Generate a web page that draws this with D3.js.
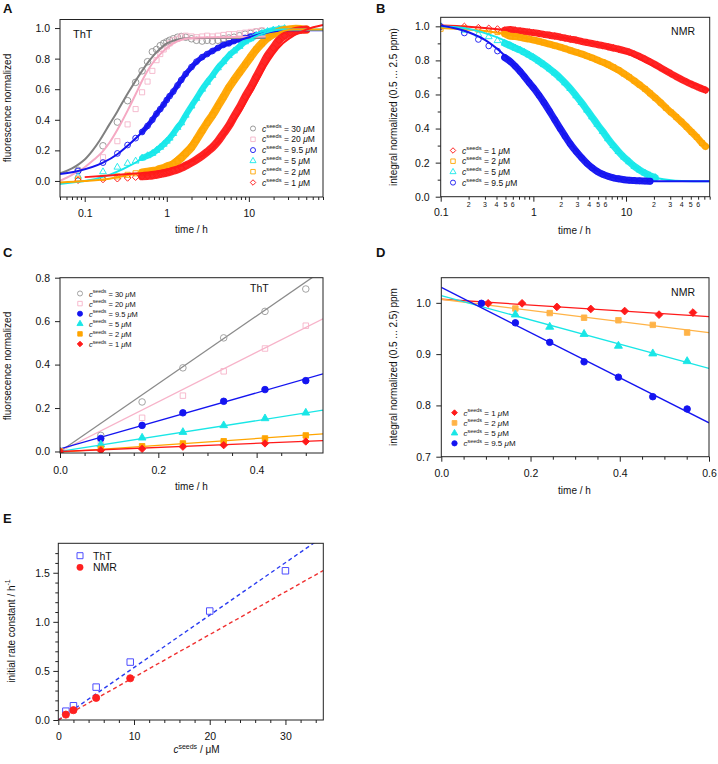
<!DOCTYPE html>
<html><head><meta charset="utf-8">
<script src="https://cdn.jsdelivr.net/npm/d3@7"></script>
<style>
body{margin:0;background:#fff}
svg{display:block;font-family:"Liberation Sans",Arial,Helvetica,sans-serif}
</style>
</head><body>
<svg id="fig" width="718" height="764"></svg>
<script>
// ---------------- DATA ----------------
// Panel A: ThT kinetics (time in h, normalized fluorescence)
const thtTime = [0.083,0.167,0.25,0.333,0.417,0.5,0.583,0.667,0.75,0.833,0.917,1.0,1.083,1.2,1.35,1.5,1.7,2.0,2.3,2.7,3.1,3.6,4.2,4.9,5.7,6.6,7.7,9,10.5,12.3,14.4,16.9,19.8,23.2,27.2,31.8,37.3,43.7,50];
const thtVal30 = [0.07,0.23,0.385,0.525,0.645,0.72,0.78,0.845,0.86,0.885,0.9,0.91,0.92,0.93,0.94,0.945,0.94,0.93,0.92,0.915,0.92,0.915,0.92,0.93,0.935,0.94,0.95,0.96,0.965,0.975,0.98];
const thtVal20 = [0.02,0.155,0.26,0.37,0.47,0.58,0.65,0.72,0.79,0.83,0.86,0.88,0.9,0.92,0.93,0.945,0.95,0.945,0.94,0.945,0.95,0.945,0.95,0.955,0.96,0.96,0.965,0.97,0.975,0.98,0.985];
const thtVal9_5 = [0.065,0.12,0.18,0.235,0.28,0.32,0.36,0.4,0.44,0.47,0.5,0.53,0.555,0.585,0.625,0.66,0.7,0.745,0.78,0.81,0.83,0.85,0.87,0.89,0.9,0.915,0.925,0.935,0.945,0.955,0.965,0.972,0.978];
const thtVal5 = [0.03,0.06,0.09,0.115,0.13,0.15,0.165,0.18,0.2,0.22,0.24,0.26,0.28,0.31,0.35,0.38,0.43,0.49,0.54,0.6,0.645,0.69,0.74,0.78,0.82,0.85,0.88,0.91,0.93,0.95,0.965,0.978,0.987,0.993,0.997];
const thtVal2 = [0.01,0.02,0.03,0.04,0.05,0.055,0.06,0.065,0.07,0.08,0.085,0.095,0.1,0.11,0.13,0.15,0.18,0.22,0.27,0.33,0.38,0.43,0.49,0.55,0.61,0.66,0.71,0.76,0.81,0.86,0.9,0.935,0.96,0.978,0.988,0.993,0.995,0.993,0.99];
const thtVal1 = [0.005,0.01,0.015,0.02,0.025,0.03,0.033,0.036,0.04,0.045,0.05,0.055,0.06,0.067,0.075,0.085,0.1,0.12,0.14,0.165,0.19,0.22,0.26,0.31,0.36,0.42,0.48,0.55,0.61,0.68,0.75,0.82,0.87,0.92,0.95,0.97,0.982,0.988,0.99];
// Panel A fitted curves [t, value]
const thtFit30 = [[0.05,0.05],[0.06,0.065],[0.07,0.082],[0.085,0.11],[0.1,0.14],[0.125,0.2],[0.15,0.26],[0.2,0.37],[0.25,0.455],[0.3,0.53],[0.35,0.59],[0.4,0.64],[0.5,0.72],[0.6,0.78],[0.7,0.825],[0.85,0.87],[1.0,0.9],[1.25,0.92],[1.6,0.932],[2,0.935],[16,0.935]];
const thtFit20 = [[0.05,0.0],[0.07,0.04],[0.1,0.09],[0.13,0.14],[0.164,0.19],[0.2,0.25],[0.25,0.335],[0.333,0.46],[0.42,0.57],[0.5,0.655],[0.65,0.76],[0.8,0.82],[1.0,0.87],[1.3,0.91],[1.7,0.93],[2.5,0.938],[5,0.94],[16,0.945]];
const thtFit9_5 = [[0.05,0.045],[0.083,0.065],[0.167,0.12],[0.25,0.175],[0.333,0.23],[0.5,0.32],[0.75,0.44],[1.0,0.53],[1.4,0.63],[2,0.735],[3,0.82],[4,0.86],[6,0.9],[10,0.94],[15,0.965],[20,0.978],[30,0.985],[80,0.985]];
const thtFit5 = [[0.05,-0.02],[0.083,-0.005],[0.1,0.0],[0.2,0.04],[0.3,0.08],[0.5,0.145],[0.7,0.2],[1,0.27],[1.5,0.39],[2,0.48],[2.5,0.56],[3,0.62],[4,0.71],[6,0.82],[10,0.92],[16,0.97],[25,0.99],[80,0.99]];
const thtFit2 = [[0.05,-0.01],[0.1,0.0],[0.2,0.015],[0.4,0.045],[0.7,0.075],[1,0.105],[1.5,0.18],[2,0.25],[2.5,0.32],[3,0.39],[4,0.49],[6,0.63],[8,0.73],[10,0.8],[13,0.87],[16,0.92],[20,0.955],[26,0.98],[35,0.99],[80,0.99]];
const thtFit1 = [[0.1,0.025],[0.2,0.035],[0.4,0.048],[0.7,0.06],[1,0.075],[1.5,0.1],[2,0.13],[3,0.18],[4,0.24],[6,0.36],[8,0.46],[10,0.55],[13,0.66],[16,0.75],[20,0.83],[26,0.9],[35,0.95],[50,0.99],[80,1.02]];

// Panel B: NMR kinetics
const nmrTime = [0.1,0.18,0.255,0.33,0.41,0.49,0.565,0.64,0.72,0.8,0.9,1.0,1.15,1.3,1.5,1.7,1.95,2.2,2.5,2.9,3.3,3.8,4.3,4.9,5.6,6.4,7.3,8.3,9.5,10.8,12.3,14,16,18.2,20.7,23.6,26.9,30.6,34.8,39.6,45,51,58,66,72];
const nmrVal1 = [0.999,0.999,0.992,0.988,0.984,0.977,0.981,0.976,0.973,0.97,0.966,0.963,0.958,0.953,0.948,0.943,0.937,0.931,0.925,0.919,0.912,0.905,0.899,0.893,0.887,0.88,0.873,0.866,0.858,0.849,0.837,0.823,0.808,0.792,0.775,0.757,0.739,0.722,0.705,0.689,0.674,0.66,0.647,0.634,0.626];
const nmrVal2 = [0.985,0.989,0.98,0.971,0.966,0.957,0.942,0.94,0.935,0.93,0.925,0.92,0.912,0.904,0.895,0.887,0.878,0.869,0.859,0.848,0.838,0.826,0.815,0.803,0.79,0.776,0.76,0.743,0.722,0.702,0.68,0.657,0.633,0.607,0.58,0.552,0.522,0.495,0.468,0.44,0.41,0.38,0.35,0.315,0.295];
const nmrVal5 = [1.0,0.977,0.953,0.939,0.916,0.901,0.886,0.872,0.86,0.847,0.832,0.817,0.795,0.775,0.75,0.726,0.697,0.668,0.635,0.592,0.553,0.508,0.468,0.425,0.383,0.34,0.3,0.265,0.232,0.205,0.178,0.157,0.138,0.123,0.112];
const nmrVal9_5 = [0.999,0.961,0.923,0.885,0.855,0.817,0.793,0.765,0.735,0.705,0.67,0.64,0.595,0.553,0.5,0.452,0.4,0.355,0.31,0.265,0.23,0.195,0.17,0.148,0.132,0.12,0.111,0.105,0.1,0.097,0.095,0.093,0.092,0.091];
const nmrFit1 = [[0.1,1.005],[0.2,0.998],[0.3,0.99],[0.5,0.978],[1,0.96],[2,0.935],[4,0.905],[7,0.87],[10,0.845],[15,0.8],[22,0.755],[35,0.705],[50,0.67],[80,0.625]];
const nmrFit2 = [[0.1,0.99],[0.3,0.972],[0.5,0.955],[1,0.92],[2,0.87],[4,0.81],[7,0.75],[10,0.705],[15,0.64],[22,0.57],[35,0.47],[50,0.39],[80,0.29]];
const nmrFit5 = [[0.1,1.0],[0.2,0.985],[0.3,0.96],[0.5,0.915],[0.7,0.875],[1,0.82],[1.5,0.75],[2,0.69],[3,0.58],[4,0.49],[6,0.37],[8,0.28],[10,0.22],[15,0.145],[22,0.108],[40,0.092],[80,0.09]];
const nmrFit9_5 = [[0.1,1.005],[0.2,0.965],[0.3,0.92],[0.5,0.825],[0.7,0.745],[1,0.645],[1.5,0.5],[2,0.39],[3,0.26],[4,0.185],[6,0.128],[10,0.1],[20,0.09],[80,0.09]];

// Panel C: ThT initial phase
const thtInitTime = [0,0.083,0.167,0.25,0.333,0.417,0.5];
const thtInit30 = [0,0.074,0.228,0.385,0.523,0.645,0.748];
const thtInit20 = [0,0.047,0.155,0.257,0.369,0.474,0.579];
const thtInit9_5 = [0,0.06,0.12,0.178,0.231,0.285,0.326];
const thtInit5 = [0,0.032,0.063,0.089,0.12,0.152,0.178];
const thtInit2 = [0,0.012,0.024,0.037,0.047,0.06,0.074];
const thtInit1 = [0,0.005,0.012,0.022,0.029,0.037,0.046];
const thtLineT = [0,0.535];
const thtLine30 = [0.0,0.835];
const thtLine20 = [0.0,0.611];
const thtLine9_5 = [0.012,0.357];
const thtLine5 = [0.0,0.19];
const thtLine2 = [-0.003,0.081];
const thtLine1 = [0.0,0.05];

// Panel D: NMR initial phase
const nmrInitT1 = [0.105,0.181,0.259,0.335,0.411,0.488,0.564];
const nmrInit1 = [0.999,0.999,0.992,0.988,0.984,0.977,0.981];
const nmrInitT2 = [0.166,0.243,0.32,0.397,0.474,0.551];
const nmrInit2 = [0.989,0.98,0.971,0.966,0.957,0.942];
const nmrInitT5 = [0.166,0.243,0.32,0.397,0.474,0.551];
const nmrInit5 = [0.977,0.953,0.939,0.916,0.901,0.886];
const nmrInitT9_5 = [0.09,0.166,0.243,0.32,0.397,0.474,0.551];
const nmrInit9_5 = [0.999,0.961,0.923,0.885,0.855,0.817,0.793];
const nmrLineT = [0,0.6];
const nmrLine1 = [1.007,0.973];
const nmrLine2 = [1.007,0.942];
const nmrLine5 = [1.014,0.872];
const nmrLine9_5 = [1.03,0.766];

// Panel E: initial rate constants
const seedsThT = [1,2,5,9.5,20,30];
const rateThT = [0.09,0.145,0.335,0.59,1.11,1.52];
const seedsNMR = [1,2,5,9.5];
const rateNMR = [0.055,0.1,0.225,0.425];
const rateLineC = [0,35];
const rateLineThT = [0,1.87];
const rateLineNMR = [0,1.523];

// Legends / tick labels
const concLabels = ["30","20","9.5","5","2","1"];
const ticksLogA = [0.1,1,10];
const ticksLin01 = [0,0.2,0.4,0.6,0.8,1.0];

// ---------------- DRAWING ----------------
const svg = d3.select("#fig");
const FONT = 10.5;
const COL = {g:"#8f8f8f", p:"#f4b4c9", b:"#1414f0", c:"#17e8ea", o:"#ffa500", r:"#ff1a1a"};
const SYM = {circle:d3.symbolCircle, square:d3.symbolSquare, triangle:d3.symbolTriangle, diamond:d3.symbolSquare};
const ROT = {diamond:45};
let clipN = 0;
const zip = (a,b) => a.slice(0,b.length).map((t,i)=>[t,b[i]]);

function panel(xs, ys) {
  const [x0,x1] = xs.range(), [y1,y0] = ys.range();
  const id = "clip"+(clipN++);
  svg.append("clipPath").attr("id",id).append("rect").attr("x",x0).attr("y",y0).attr("width",x1-x0).attr("height",y1-y0);
  const g = svg.append("g");
  const plot = g.append("g").attr("clip-path",`url(#${id})`);
  return {g, plot, xs, ys, x0, x1, y0, y1};
}
function axes(P, c) {
  const {g, xs, ys, x0, x1, y0, y1} = P;
  function styl(sel){ sel.select(".domain").remove(); sel.selectAll("line").attr("stroke","#222"); sel.selectAll("text").attr("font-size",c.fs||FONT).attr("fill","#111").attr("font-family",null); }
  g.append("g").attr("transform",`translate(0,${y1})`)
    .call(d3.axisBottom(xs).tickValues(c.xMaj).tickFormat(c.xFmt).tickSize(5).tickSizeOuter(0).tickPadding(c.xPad)).call(styl);
  if (c.xMin) g.append("g").attr("transform",`translate(0,${y1})`)
    .call(d3.axisBottom(xs).tickValues(c.xMin).tickFormat("").tickSize(3).tickSizeOuter(0)).call(styl);
  g.append("g").attr("transform",`translate(${x0},0)`)
    .call(d3.axisLeft(ys).tickValues(c.yMaj).tickFormat(c.yFmt).tickSize(5).tickSizeOuter(0).tickPadding(c.yPad)).call(styl);
  if (c.yMin) g.append("g").attr("transform",`translate(${x0},0)`)
    .call(d3.axisLeft(ys).tickValues(c.yMin).tickFormat("").tickSize(3).tickSizeOuter(0)).call(styl);
  g.append("rect").attr("x",x0).attr("y",y0).attr("width",x1-x0).attr("height",y1-y0)
    .attr("fill","none").attr("stroke","#222").attr("stroke-width",1);
}
function fitLine(P, data, color, w, dash) {
  const line = d3.line().curve(d3.curveMonotoneX).x(d=>P.xs(d[0])).y(d=>P.ys(d[1]));
  P.plot.append("path").attr("d",line(data)).attr("fill","none").attr("stroke",color)
    .attr("stroke-width",w).attr("stroke-dasharray",dash||null);
}
function symPath(sel, shape, size){
  sel.attr("d",d3.symbol().type(SYM[shape]).size(shape==="diamond"?size*0.75:size));
}
function series(P, data, o) {
  const {xs, ys} = P;
  if (o.band) {
    // dense measurements: consecutive points closer than o.gap px merge into a band
    const segs=[]; let cur=[];
    data.forEach((d,i)=>{
      if (i>0 && Math.abs(xs(d[0])-xs(data[i-1][0]))>o.gap){ if(cur.length>1) segs.push(cur); cur=[]; }
      cur.push(d);
    });
    if (cur.length>1) segs.push(cur);
    const line = d3.line().curve(d3.curveMonotoneX).x(d=>xs(d[0])).y(d=>ys(d[1]));
    segs.forEach(s=>P.plot.append("path").attr("d",line(s)).attr("fill","none").attr("stroke",o.color)
      .attr("stroke-width",o.band).attr("stroke-linecap","round").attr("stroke-linejoin","round").attr("opacity",0.95));
  }
  P.plot.selectAll(null).data(data).enter().append("path")
    .attr("transform",d=>`translate(${xs(d[0])},${ys(d[1])}) rotate(${ROT[o.shape]||0})`)
    .call(symPath, o.shape, o.size)
    .attr("fill",o.filled?o.color:"none").attr("stroke",o.color).attr("stroke-width",o.sw||0.9);
}
function legend(g, x, y, dy, items, fs, muItalic) {
  items.forEach((it,i)=>{
    const yy = y+i*dy;
    g.append("path").attr("transform",`translate(${x},${yy}) rotate(${ROT[it.shape]||0})`)
      .call(symPath, it.shape, it.size||20)
      .attr("fill",it.filled?it.color:"none").attr("stroke",it.color).attr("stroke-width",0.9);
    const t = g.append("text").attr("x",x+9).attr("y",yy+3).attr("font-size",fs).attr("fill","#111");
    t.append("tspan").attr("font-style","italic").text("c");
    t.append("tspan").attr("font-size",fs*0.68).attr("dy",-fs*0.45).text("seeds");
    t.append("tspan").attr("dy",fs*0.45).text(" = "+it.label+" ");
    t.append("tspan").attr("font-style",muItalic?"italic":null).text("μ");
    t.append("tspan").text("M");
  });
}
function txt(x,y,s,fs,anchor,weight){
  return svg.append("text").attr("x",x).attr("y",y).attr("font-size",fs).attr("text-anchor",anchor||"start")
    .attr("font-weight",weight||null).attr("fill","#111").text(s);
}
function ylab(cx,cy,s,fs){
  return svg.append("text").attr("transform",`translate(${cx},${cy}) rotate(-90)`).attr("text-anchor","middle")
    .attr("dominant-baseline","middle").attr("font-size",fs).attr("fill","#111").text(s);
}
function logMinor(lo, hi) { const r=[]; for (let d=lo; d<hi; d*=10) for (let k=1;k<10;k++){ const v=d*k; if(k>1 && v<=hi*1.0001) r.push(v);} return r; }
const f1 = d3.format(".1f");

// ---------- Panel A ----------
const xA = d3.scaleLog().domain([0.05,80]).range([60,323]);
const yA = d3.scaleLinear().domain([-0.105,1.056]).range([197,19.5]);
const PA = panel(xA,yA);
const seriesA = [
  {v:thtVal30, fit:thtFit30, color:COL.g, shape:"circle", size:34, band:0},
  {v:thtVal20, fit:thtFit20, color:COL.p, shape:"square", size:26, band:0},
  {v:thtVal9_5, fit:thtFit9_5, color:COL.b, shape:"circle", size:26, band:5},
  {v:thtVal5, fit:thtFit5, color:COL.c, shape:"triangle", size:20, band:6},
  {v:thtVal2, fit:thtFit2, color:COL.o, shape:"square", size:26, band:8},
  {v:thtVal1, fit:thtFit1, color:COL.r, shape:"diamond", size:30, band:8}
];
seriesA.forEach(s=>series(PA, zip(thtTime,s.v), {color:s.color, shape:s.shape, size:s.size, band:s.band, gap:6}));
seriesA.forEach(s=>fitLine(PA, s.fit, s.color==COL.p?"#f5a9c3":(s.color==COL.g?"#808080":s.color), 2));
axes(PA,{xMaj:ticksLogA, xFmt:d=>String(d), xMin:logMinor(0.01,80).filter(v=>v>=0.05), xPad:7.5,
  yMaj:ticksLin01, yFmt:f1, yPad:5});
legend(PA.g, 253, 128.5, 10.8, seriesA.map((s,i)=>({shape:s.shape,color:s.color,label:concLabels[i],size:s.shape==="triangle"?16:20})), 8.5, true);
txt(73,38,"ThT",11);
txt(3,13,"A",13,"start","bold");
ylab(8,108,"fluorescence normalized",10);
txt(191.5,233,"time / h",10,"middle");

// ---------- Panel B ----------
const xB = d3.scaleLog().domain([0.1,80]).range([440.7,709.7]);
const yB = d3.scaleLinear().domain([0,1.053]).range([196.7,17.3]);
const PB = panel(xB,yB);
const seriesB = [
  {v:nmrVal1, fit:nmrFit1, color:COL.r, shape:"diamond", size:30, label:"1"},
  {v:nmrVal2, fit:nmrFit2, color:COL.o, shape:"square", size:24, label:"2"},
  {v:nmrVal5, fit:nmrFit5, color:COL.c, shape:"triangle", size:20, label:"5"},
  {v:nmrVal9_5, fit:nmrFit9_5, color:COL.b, shape:"circle", size:26, label:"9.5"}
];
seriesB.forEach(s=>series(PB, zip(nmrTime,s.v), {color:s.color, shape:s.shape, size:s.size, band:7, gap:6.5}));
seriesB.forEach(s=>fitLine(PB, s.fit, s.color, 2));
const minorB = logMinor(0.1,80);
axes(PB,{xMaj:[0.1,1,10], xFmt:d=>String(d), xMin:minorB, xPad:7,
  yMaj:ticksLin01, yFmt:f1, yMin:[0.1,0.3,0.5,0.7,0.9], yPad:6});
PB.g.selectAll(null).data(minorB.filter(v=>{const m=Math.round(v/Math.pow(10,Math.floor(Math.log10(v)+1e-9)));return m>=2&&m<=6;}))
  .enter().append("text").attr("x",d=>xB(d)).attr("y",207).attr("text-anchor","middle").attr("font-size",7).attr("fill","#111")
  .text(d=>Math.round(d/Math.pow(10,Math.floor(Math.log10(d)+1e-9))));
legend(PB.g, 453, 150.5, 10.7, seriesB.map(s=>({shape:s.shape,color:s.color,label:s.label,size:s.shape==="triangle"?16:20})), 8.5, true);
txt(695,35,"NMR",10.5,"end");
txt(376,13,"B",13,"start","bold");
ylab(394,107,"integral normalized (0.5 ... 2.5 ppm)",10);
txt(574.5,234,"time / h",10,"middle");

// ---------- Panel C ----------
const xC = d3.scaleLinear().domain([0,0.535]).range([60,323]);
const yC = d3.scaleLinear().domain([-0.007,0.8]).range([453,277.7]);
const PC = panel(xC,yC);
const seriesC = [
  {v:thtInit30, l:thtLine30, color:"#999999", line:"#8a8a8a", shape:"circle", filled:false, size:34},
  {v:thtInit20, l:thtLine20, color:"#f6b3c8", line:"#f7b3c9", shape:"square", filled:false, size:30},
  {v:thtInit9_5, l:thtLine9_5, color:COL.b, line:COL.b, shape:"circle", filled:true, size:34},
  {v:thtInit5, l:thtLine5, color:"#19e6e6", line:"#19e6e6", shape:"triangle", filled:true, size:26},
  {v:thtInit2, l:thtLine2, color:COL.o, line:COL.o, shape:"square", filled:true, size:30},
  {v:thtInit1, l:thtLine1, color:COL.r, line:COL.r, shape:"diamond", filled:true, size:36}
];
seriesC.forEach(s=>fitLine(PC, zip(thtLineT,s.l), s.line, 1.3));
seriesC.forEach(s=>series(PC, zip(thtInitTime,s.v), {color:s.color, shape:s.shape, size:s.size, filled:s.filled}));
axes(PC,{xMaj:[0,0.2,0.4], xFmt:f1, xMin:[0.05,0.1,0.15,0.25,0.3,0.35,0.45,0.5], xPad:9,
  yMaj:[0,0.2,0.4,0.6,0.8], yFmt:f1, yPad:5});
legend(PC.g, 80, 293.5, 10.1, seriesC.map((s,i)=>({shape:s.shape,color:s.color,filled:s.filled,label:concLabels[i],size:s.shape==="triangle"?16:20})), 7.5, true);
txt(250,292,"ThT",10.5);
txt(3,257,"C",13,"start","bold");
ylab(8,366,"fluorsecence normalized",10);
txt(191.5,490,"time / h",10,"middle");

// ---------- Panel D ----------
const xD = d3.scaleLinear().domain([0,0.6]).range([441.3,709]);
const yD = d3.scaleLinear().domain([0.7,1.049]).range([456.7,277.7]);
const PD = panel(xD,yD);
const seriesD = [
  {t:nmrInitT1, v:nmrInit1, l:nmrLine1, color:COL.r, shape:"diamond", size:40, label:"1"},
  {t:nmrInitT2, v:nmrInit2, l:nmrLine2, color:"#ffb347", shape:"square", size:30, label:"2"},
  {t:nmrInitT5, v:nmrInit5, l:nmrLine5, color:"#19e6e6", shape:"triangle", size:28, label:"5"},
  {t:nmrInitT9_5, v:nmrInit9_5, l:nmrLine9_5, color:COL.b, shape:"circle", size:34, label:"9.5"}
];
seriesD.forEach(s=>fitLine(PD, zip(nmrLineT,s.l), s.color, 1.3));
seriesD.forEach(s=>series(PD, zip(s.t,s.v), {color:s.color, shape:s.shape, size:s.size, filled:true}));
axes(PD,{xMaj:[0,0.2,0.4,0.6], xFmt:f1, xMin:[0.05,0.1,0.15,0.25,0.3,0.35,0.45,0.5,0.55], xPad:7.5,
  yMaj:[0.7,0.8,0.9,1.0], yFmt:f1, yPad:5.5});
legend(PD.g, 454.5, 412.7, 10.2, seriesD.map(s=>({shape:s.shape,color:s.color,filled:true,label:s.label,size:s.shape==="triangle"?18:22})), 8, true);
txt(695,296,"NMR",10.5,"end");
txt(376,257,"D",13,"start","bold");
ylab(394,367,"integral normalized (0.5 ... 2.5) ppm",10);
txt(574.5,494,"time / h",10,"middle");

// ---------- Panel E ----------
const xE = d3.scaleLinear().domain([0,35]).range([58.3,323.3]);
const yE = d3.scaleLinear().domain([0,1.8]).range([720,543.3]);
const PE = panel(xE,yE);
fitLine(PE, zip(rateLineC,rateLineThT), "#2a3cf0", 1.4, "4,3");
fitLine(PE, zip(rateLineC,rateLineNMR), "#f03030", 1.4, "4,3");
series(PE, zip(seedsThT,rateThT), {color:"#4d4dff", shape:"square", size:42, filled:false, sw:1});
series(PE, zip(seedsNMR,rateNMR), {color:"#ff2020", shape:"circle", size:40, filled:true});
const minE=[]; for(let v=2; v<35; v+=2) if(v%10) minE.push(v);
const minEy=[]; for(let k=1;k<18;k++) if(k%5) minEy.push(k/10);
axes(PE,{xMaj:[0,10,20,30], xFmt:d3.format("d"), xMin:minE, xPad:8,
  yMaj:[0,0.5,1.0,1.5], yFmt:f1, yMin:minEy, yPad:3.5});
PE.g.append("path").attr("transform","translate(80,555.7)").attr("d",d3.symbol().type(d3.symbolSquare).size(36))
  .attr("fill","none").attr("stroke","#4d4dff").attr("stroke-width",1);
PE.g.append("text").attr("x",93).attr("y",559.5).attr("font-size",10.5).attr("fill","#111").text("ThT");
PE.g.append("path").attr("transform","translate(80,567.3)").attr("d",d3.symbol().type(d3.symbolCircle).size(36))
  .attr("fill","#ff2020");
PE.g.append("text").attr("x",93).attr("y",571).attr("font-size",10.5).attr("fill","#111").text("NMR");
txt(3,523,"E",13,"start","bold");
const yl = svg.append("text").attr("transform","translate(12,631) rotate(-90)").attr("text-anchor","middle")
  .attr("dominant-baseline","middle").attr("font-size",10).attr("fill","#111");
yl.append("tspan").text("initial rate constant / h");
yl.append("tspan").attr("font-size",7).attr("dy",-4).text("-1");
const xl = svg.append("text").attr("x",196.5).attr("y",753).attr("text-anchor","middle").attr("font-size",10).attr("fill","#111");
xl.append("tspan").attr("font-style","italic").text("c");
xl.append("tspan").attr("font-size",7).attr("dy",-4.5).text("seeds");
xl.append("tspan").attr("dy",4.5).text(" / μM");
</script>
</body></html>
